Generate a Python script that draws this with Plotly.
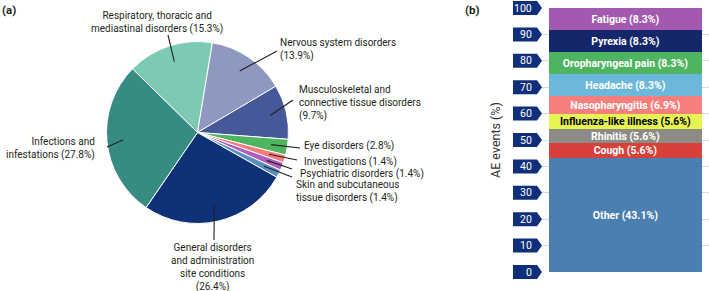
import math
import plotly.graph_objects as go

W, H = 709, 291

# ---------------- data ----------------
pie_labels = [
    "Respiratory, thoracic and<br>mediastinal disorders (15.3%)",
    "Nervous system disorders<br>(13.9%)",
    "Musculoskeletal and<br>connective tissue disorders<br>(9.7%)",
    "Eye disorders (2.8%)",
    "Investigations (1.4%)",
    "Psychiatric disorders (1.4%)",
    "Skin and subcutaneous<br>tissue disorders (1.4%)",
    "General disorders<br>and administration<br>site conditions<br>(26.4%)",
    "Infections and<br>infestations (27.8%)",
]
pie_values = [15.3, 13.9, 9.7, 2.8, 1.4, 1.4, 1.4, 26.4, 27.8]
pie_colors = ["#7dcab4", "#8e98c0", "#46589a", "#4fb45f", "#f47d7c",
              "#b05dbf", "#5b8ec0", "#0e3178", "#368c80"]

bar_labels = ["Other", "Cough", "Rhinitis", "Influenza-like illness", "Nasopharyngitis",
              "Headache", "Oropharyngeal pain", "Pyrexia", "Fatigue"]
bar_values = [43.1, 5.6, 5.6, 5.6, 6.9, 8.3, 8.3, 8.3, 8.3]
bar_colors = ["#4a7fb0", "#d8413b", "#8e8b84", "#e6f451", "#f67f7e",
              "#6cb8da", "#4fb45f", "#15276b", "#a459b0"]
bar_text_colors = ["white", "white", "white", "black", "white",
                   "white", "white", "white", "white"]
y_ticks = [0, 10, 20, 30, 40, 50, 60, 70, 80, 90, 100]

# ---------------- layout constants (pixels) ----------------
PIE_CX, PIE_CY, PIE_R = 197.5, 132.5, 91.0
ROTATION = -45.6
# label anchors: (x, y, xanchor, align)
label_pos = [
    (157, 22.5, "center", "center"),
    (278, 49, "left", "left"),
    (297, 102.5, "left", "left"),
    (302, 146, "left", "left"),
    (302, 162, "left", "left"),
    (298, 173.5, "left", "left"),
    (294, 191, "left", "left"),
    (213, 267.5, "center", "center"),
    (97, 148, "right", "right"),
]
leader_outer = [(168, 35), (277, 51), (293, 100), (300, 148), (297, 160),
                (292, 169), (292, 177), (214, 240), (107, 147)]
LEADER_FRAC = 0.82

BAR_Y0, BAR_Y1 = 272.0, 8.0      # pixel y of 0 and 100
BAR_X0 = 542.0                    # left of bar x-domain (badge tip)
BADGE_L, BADGE_R, BADGE_TIP, BADGE_H = 513.0, 537.0, 542.0, 14.0

TXT = "#231f20"
FONT = "Roboto, Arial, sans-serif"


def px(x, y):
    return x / W, 1 - y / H


fig = go.Figure()

# ---------------- pie ----------------
fig.add_trace(go.Pie(
    labels=[l.replace("<br>", " ") for l in pie_labels],
    values=pie_values,
    sort=False,
    direction="clockwise",
    rotation=ROTATION,
    marker=dict(colors=pie_colors, line=dict(color="white", width=1)),
    textinfo="none",
    hoverinfo="label",
    showlegend=False,
    domain=dict(x=[(PIE_CX - PIE_R) / W, (PIE_CX + PIE_R) / W],
                y=[1 - (PIE_CY + PIE_R) / H, 1 - (PIE_CY - PIE_R) / H]),
))

shapes = []
annotations = []
total = sum(pie_values)
cum = 0.0
for i, v in enumerate(pie_values):
    mid = ROTATION + (cum + v / 2) / total * 360.0
    cum += v
    a = math.radians(mid)
    ix = PIE_CX + LEADER_FRAC * PIE_R * math.sin(a)
    iy = PIE_CY - LEADER_FRAC * PIE_R * math.cos(a)
    x0, y0 = px(ix, iy)
    x1, y1 = px(*leader_outer[i])
    shapes.append(dict(type="line", xref="paper", yref="paper", x0=x0, y0=y0, x1=x1, y1=y1,
                       line=dict(color=TXT, width=1.1)))
    lx, ly, xa, al = label_pos[i]
    ax_, ay_ = px(lx, ly)
    annotations.append(dict(text=pie_labels[i], x=ax_, y=ay_, xref="paper", yref="paper",
                            xanchor=xa, yanchor="middle", align=al, showarrow=False,
                            font=dict(family=FONT, size=10, color=TXT)))

# ---------------- stacked bar ----------------
for lab, val, col, tc in zip(bar_labels, bar_values, bar_colors, bar_text_colors):
    fig.add_trace(go.Bar(
        x=[0], y=[val], width=0.92,
        marker=dict(color=col, line=dict(width=0)),
        text=[f"{lab} ({val}%)"], textposition="inside", insidetextanchor="middle",
        textfont=dict(family=FONT, size=10.5, color=tc, weight="bold"),
        constraintext="none",
        xaxis="x2", yaxis="y2", showlegend=False, name=lab,
    ))

ydom = [1 - BAR_Y0 / H, 1 - BAR_Y1 / H]


def val2py(v):
    return BAR_Y0 + (BAR_Y1 - BAR_Y0) * v / 100.0


for t in y_ticks:
    cy = val2py(t)
    pts = [(BADGE_L, cy - BADGE_H / 2), (BADGE_R, cy - BADGE_H / 2), (BADGE_TIP, cy),
           (BADGE_R, cy + BADGE_H / 2), (BADGE_L, cy + BADGE_H / 2)]
    path = "M " + " L ".join(f"{px(x, y)[0]:.5f},{px(x, y)[1]:.5f}" for x, y in pts) + " Z"
    shapes.append(dict(type="path", xref="paper", yref="paper", path=path,
                       fillcolor="#0f2f7a", line=dict(width=0)))
    tx, ty = px(BADGE_R - 3, cy)
    annotations.append(dict(text=str(t), x=tx, y=ty, xref="paper", yref="paper",
                            xanchor="right", yanchor="middle", showarrow=False,
                            font=dict(family=FONT, size=10.5, color="white")))

annotations.append(dict(text="AE events (%)", x=px(495, 140)[0], y=px(495, 140)[1],
                        xref="paper", yref="paper", textangle=-90, showarrow=False,
                        xanchor="center", yanchor="middle",
                        font=dict(family=FONT, size=12.5, color="#333333")))
annotations.append(dict(text="<b>(a)</b>", x=0, y=px(0, 10)[1], xref="paper", yref="paper",
                        xanchor="left", yanchor="middle", showarrow=False,
                        font=dict(family=FONT, size=11.5, color=TXT)))
annotations.append(dict(text="<b>(b)</b>", x=px(463, 0)[0], y=px(0, 10)[1], xref="paper",
                        yref="paper", xanchor="left", yanchor="middle", showarrow=False,
                        font=dict(family=FONT, size=11.5, color=TXT)))

fig.update_layout(
    width=W, height=H,
    margin=dict(l=0, r=0, t=0, b=0),
    paper_bgcolor="white", plot_bgcolor="white",
    barmode="stack", bargap=0,
    xaxis2=dict(domain=[BAR_X0 / W, 1], range=[-0.5, 0.5], visible=False, anchor="y2"),
    yaxis2=dict(domain=ydom, range=[0, 100], tickvals=y_ticks, showticklabels=False,
                showgrid=True, gridcolor="#d9d9d9", gridwidth=1, zeroline=False,
                showline=False, ticks="", anchor="x2"),
    shapes=shapes,
    annotations=annotations,
    uniformtext=dict(mode=False),
)

fig.write_html("out.html", config={"displayModeBar": False},
               post_script="document.body.style.margin='0';document.body.style.overflow='hidden';")
